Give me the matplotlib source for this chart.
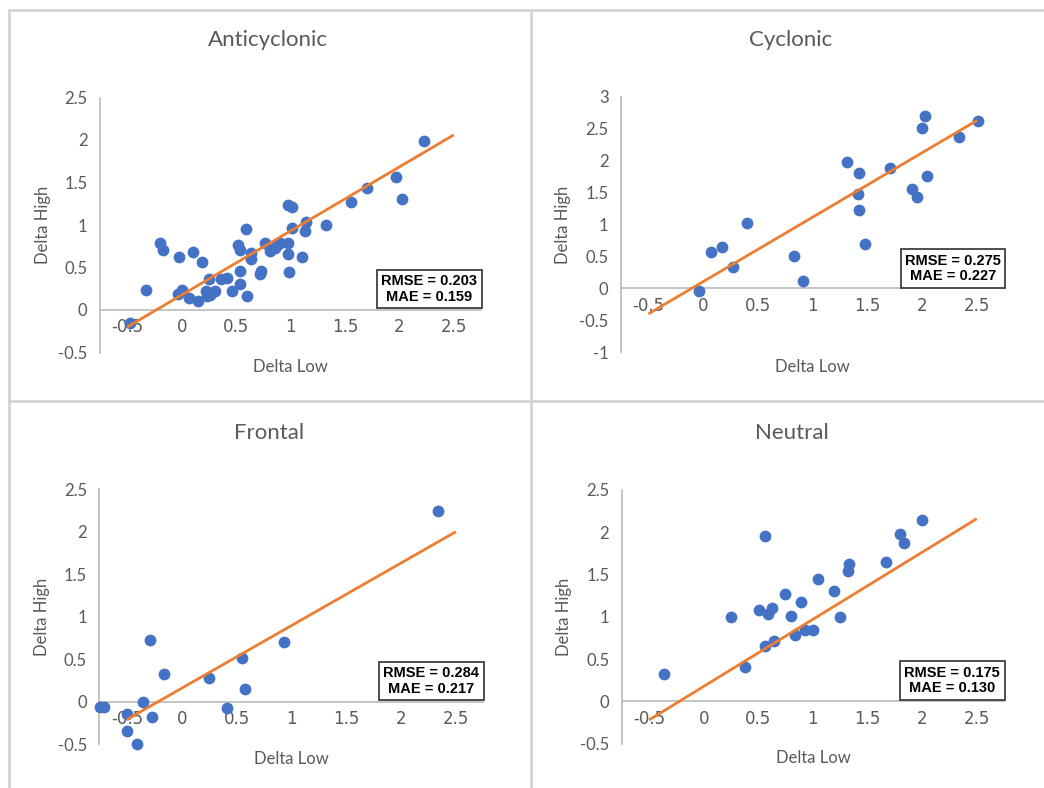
import matplotlib.pyplot as plt
from matplotlib.lines import Line2D

# --- data ---
anti_x = [-0.47, -0.33, -0.20, -0.17, -0.02, -0.03, 0.00, 0.07, 0.10, 0.15, 0.19,
          0.22, 0.23, 0.26, 0.25, 0.27, 0.31, 0.36, 0.42, 0.46, 0.52, 0.54, 0.54,
          0.54, 0.59, 0.60, 0.64, 0.64, 0.72, 0.73, 0.77, 0.81, 0.86, 0.88, 0.90,
          0.98, 0.98, 0.99, 0.98, 1.01, 1.01, 1.11, 1.14, 1.13, 1.33, 1.56, 1.70,
          1.97, 2.02, 2.23]
anti_y = [-0.15, 0.24, 0.79, 0.71, 0.62, 0.19, 0.23, 0.14, 0.68, 0.11, 0.56,
          0.22, 0.16, 0.18, 0.37, 0.20, 0.22, 0.36, 0.38, 0.22, 0.77, 0.71, 0.46,
          0.31, 0.95, 0.16, 0.67, 0.60, 0.42, 0.46, 0.79, 0.69, 0.73, 0.76, 0.79,
          0.79, 0.66, 0.45, 1.23, 1.21, 0.96, 0.62, 1.04, 0.93, 1.00, 1.27, 1.43,
          1.57, 1.31, 1.99]

cyc_x = [-0.04, 0.07, 0.17, 0.27, 0.40, 0.83, 0.91, 1.31, 1.42, 1.41, 1.42, 1.48,
         1.70, 1.90, 1.95, 2.00, 2.02, 2.04, 2.33, 2.51]
cyc_y = [-0.05, 0.57, 0.65, 0.34, 1.02, 0.50, 0.11, 1.98, 1.80, 1.48, 1.22, 0.70,
         1.89, 1.55, 1.43, 2.51, 2.70, 1.76, 2.36, 2.62]

front_x = [-0.74, -0.71, -0.50, -0.50, -0.41, -0.35, -0.29, -0.27, -0.16, 0.25,
           0.41, 0.55, 0.58, 0.93, 2.34]
front_y = [-0.06, -0.06, -0.145, -0.35, -0.50, 0.00, 0.73, -0.18, 0.33, 0.28,
           -0.07, 0.52, 0.145, 0.70, 2.24]

neut_x = [-0.36, 0.25, 0.38, 0.51, 0.56, 0.56, 0.59, 0.63, 0.64, 0.745, 0.80, 0.84,
          0.89, 0.93, 1.00, 1.05, 1.19, 1.25, 1.32, 1.33, 1.67, 1.80, 1.83, 2.00]
neut_y = [0.32, 1.00, 0.41, 1.08, 1.96, 0.66, 1.03, 1.10, 0.71, 1.27, 1.01, 0.79,
          1.17, 0.84, 0.84, 1.45, 1.30, 1.00, 1.54, 1.63, 1.65, 1.98, 1.87, 2.14]

# fitted lines drawn from x=-0.5 to x=2.5
line_x = [-0.5, 2.5]
anti_line = [-0.20, 2.06]
cyc_line = [-0.40, 2.63]
front_line = [-0.21, 2.00]
neut_line = [-0.22, 2.16]

titles = ["Anticyclonic", "Cyclonic", "Frontal", "Neutral"]
rmse = ["0.203", "0.275", "0.284", "0.175"]
mae = ["0.159", "0.227", "0.217", "0.130"]

W, H = 1044, 788
BLUE = "#4472C4"
ORANGE = "#ED7D31"
GRAY_TXT = "#595959"
AXIS_GRAY = "#BFBFBF"
FONT = "Lato"

fig = plt.figure(figsize=(W / 100, H / 100), dpi=100)

# panel settings: axes rect in pixels (left, top, right, bottom), ylim, yticks, title pos, box bottom
panels = [
    dict(x=anti_x, y=anti_y, ln=anti_line, rect=(100, 97.5, 481, 352.5), ylim=(-0.5, 2.5),
         yt=[-0.5, 0, 0.5, 1, 1.5, 2, 2.5], tpos=(268, 40), box=0.19),
    dict(x=cyc_x, y=cyc_y, ln=cyc_line, rect=(621, 96.6, 1004.7, 352.2), ylim=(-1, 3),
         yt=[-1, -0.5, 0, 0.5, 1, 1.5, 2, 2.5, 3], tpos=(791, 40), box=0.27),
    dict(x=front_x, y=front_y, ln=front_line, rect=(99.4, 489.2, 483.3, 744.2), ylim=(-0.5, 2.5),
         yt=[-0.5, 0, 0.5, 1, 1.5, 2, 2.5], tpos=(269, 433), box=0.19),
    dict(x=neut_x, y=neut_y, ln=neut_line, rect=(621.8, 490, 1004, 743.6), ylim=(-0.5, 2.5),
         yt=[-0.5, 0, 0.5, 1, 1.5, 2, 2.5], tpos=(792, 433), box=0.19),
]

for i, p in enumerate(panels):
    l, t, r, b = p["rect"]
    ax = fig.add_axes([l / W, 1 - b / H, (r - l) / W, (b - t) / H])
    ax.scatter(p["x"], p["y"], s=72, color=BLUE, zorder=3, linewidths=0, clip_on=False)
    ax.plot(line_x, p["ln"], color=ORANGE, lw=2, zorder=4, solid_capstyle="butt")

    ax.set_xlim(-0.75, 2.75)
    ax.set_ylim(*p["ylim"])
    ax.set_xticks([-0.5, 0, 0.5, 1, 1.5, 2, 2.5])
    ax.set_xticklabels(["-0.5", "0", "0.5", "1", "1.5", "2", "2.5"])
    ax.set_yticks(p["yt"])
    ax.set_yticklabels([f"{v:g}" for v in p["yt"]])
    ax.tick_params(length=0, labelsize=12, labelcolor=GRAY_TXT)
    ax.tick_params(axis="y", pad=9)
    ax.tick_params(axis="x", pad=6)
    for lab in ax.get_xticklabels() + ax.get_yticklabels():
        lab.set_fontfamily(FONT)

    # Excel-like axes: horizontal axis crossing at y = 0
    ax.spines["top"].set_visible(False)
    ax.spines["right"].set_visible(False)
    ax.spines["bottom"].set_position(("data", 0))
    for s in ("left", "bottom"):
        ax.spines[s].set_color(AXIS_GRAY)
        ax.spines[s].set_linewidth(1.3)
    ax.patch.set_alpha(0)

    ax.set_xlabel("Delta Low", fontsize=12, color=GRAY_TXT, family=FONT)
    ax.set_ylabel("Delta High", fontsize=12, color=GRAY_TXT, family=FONT)
    ax.xaxis.set_label_coords(0.5, -0.057)
    ax.xaxis.label.set_va("center")
    ax.yaxis.set_label_coords(-0.15, 0.5)
    ax.yaxis.label.set_va("center")

    ax.text(0.99, p["box"], f"RMSE = {rmse[i]}\nMAE = {mae[i]}", transform=ax.transAxes,
            ha="right", va="bottom", multialignment="center", fontsize=10.5, fontweight="bold",
            family="Liberation Sans", linespacing=1.15, zorder=6,
            bbox=dict(boxstyle="square,pad=0.3", fc="white", ec="#404040", lw=1.3))

    tx, ty = p["tpos"]
    fig.text(tx / W, 1 - ty / H, titles[i], ha="center", va="center", fontsize=16,
             color=GRAY_TXT, family=FONT)

# spreadsheet chart frame lines
frame = "#D4D4D4"
fig.add_artist(Line2D([9 / W, 1], [1 - 9.5 / H] * 2, color=frame, lw=2))
fig.add_artist(Line2D([9 / W] * 2, [0, 1 - 9.5 / H], color=frame, lw=2))
fig.add_artist(Line2D([531 / W] * 2, [0, 1 - 9.5 / H], color=frame, lw=2))
fig.add_artist(Line2D([9 / W, 1], [1 - 400.5 / H] * 2, color=frame, lw=2))

fig.savefig("out.png", dpi=100)
